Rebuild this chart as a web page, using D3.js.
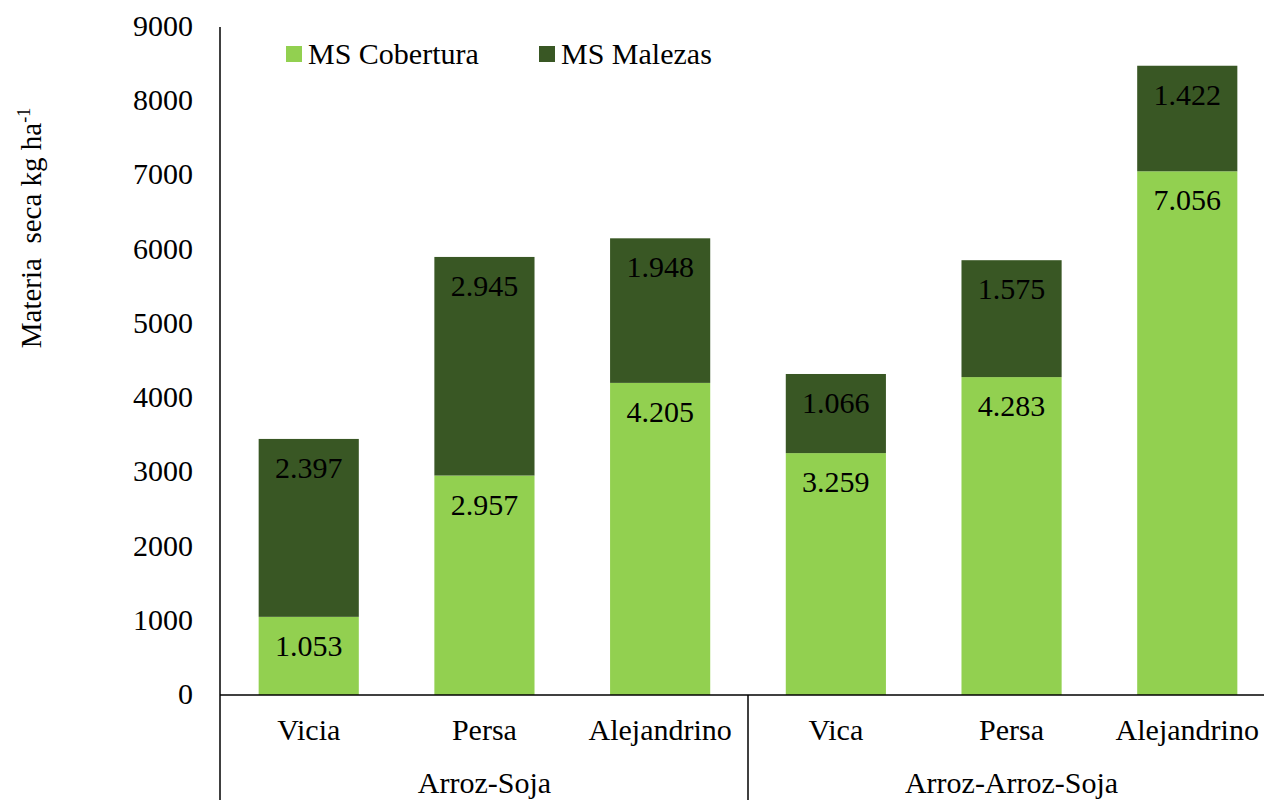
<!DOCTYPE html>
<html>
<head>
<meta charset="utf-8">
<script src="https://cdn.jsdelivr.net/npm/d3@7"></script>
<style>
body { margin: 0; background: #fff; }
</style>
</head>
<body>
<svg id="chart" width="1264" height="800"></svg>
<script>
const categories = ["Vicia", "Persa", "Alejandrino", "Vica", "Persa", "Alejandrino"];
const groups = ["Arroz-Soja", "Arroz-Arroz-Soja"];
const cobertura = [1053, 2957, 4205, 3259, 4283, 7056];
const malezas = [2397, 2945, 1948, 1066, 1575, 1422];
const yTicks = [0, 1000, 2000, 3000, 4000, 5000, 6000, 7000, 8000, 9000];
const seriesNames = ["MS Cobertura", "MS Malezas"];
const colors = ["#92D050", "#395724"];

const svg = d3.select("#chart")
	.attr("font-family", "'Liberation Serif', 'Times New Roman', Times, serif");
const plotLeft = 220, plotTop = 27, plotBottom = 695, fs = 30;

const y = d3.scaleLinear().domain([0, 9000]).range([plotBottom, plotTop]);
const x = d3.scaleBand().domain(d3.range(categories.length)).range([plotLeft, plotLeft + 6 * 176]).paddingInner(0.43).paddingOuter(0.22);

let fmt = v => d3.format(",")(v).replace(",", ".");

// y axis labels
svg.append("g").selectAll("text").data(yTicks).enter().append("text")
	.attr("x", 193).attr("y", d => y(d) + 9)
	.attr("text-anchor", "end").attr("font-size", fs)
	.text(d => d);

// stacked bars
let rows = categories.map((c, i) => ({i: i, cob: cobertura[i], mal: malezas[i]}));
let stack = d3.stack().keys(["cob", "mal"])(rows);

stack.forEach((s, k) => {
	let g = svg.append("g");
	g.selectAll("rect").data(s).enter().append("rect")
		.attr("x", d => x(d.data.i))
		.attr("width", x.bandwidth())
		.attr("y", d => y(d[1]))
		.attr("height", d => y(d[0]) - y(d[1]))
		.attr("fill", colors[k]);
	g.selectAll("text").data(s).enter().append("text")
		.attr("x", d => x(d.data.i) + x.bandwidth() / 2)
		.attr("y", d => y(d[1]) + 39)
		.attr("text-anchor", "middle").attr("font-size", fs)
		.text(d => fmt(d[1] - d[0]));
});

// axes lines
svg.append("line").attr("x1", plotLeft).attr("x2", plotLeft).attr("y1", plotTop).attr("y2", 800)
	.attr("stroke", "#000").attr("stroke-width", 1.5);
svg.append("line").attr("x1", plotLeft).attr("x2", 1264).attr("y1", plotBottom).attr("y2", plotBottom)
	.attr("stroke", "#000").attr("stroke-width", 1.5);
let sepX = (x(2) + x.bandwidth() + x(3)) / 2;
svg.append("line").attr("x1", sepX).attr("x2", sepX).attr("y1", plotBottom).attr("y2", 800)
	.attr("stroke", "#000").attr("stroke-width", 1.5);

// category labels
svg.append("g").selectAll("text").data(categories).enter().append("text")
	.attr("x", (d, i) => x(i) + x.bandwidth() / 2)
	.attr("y", 740)
	.attr("text-anchor", "middle").attr("font-size", fs)
	.text(d => d);

// group labels
svg.append("g").selectAll("text").data(groups).enter().append("text")
	.attr("x", (d, i) => (x(i * 3) + x(i * 3 + 2) + x.bandwidth()) / 2)
	.attr("y", 793)
	.attr("text-anchor", "middle").attr("font-size", fs)
	.text(d => d);

// y title
let yt = svg.append("text")
	.attr("transform", "translate(41,228) rotate(-90)")
	.attr("text-anchor", "middle").attr("font-size", 29)
	.style("white-space", "pre");
yt.append("tspan").text("Materia  seca kg ha");
yt.append("tspan").attr("dy", -11).attr("font-size", 18).text("-1");

// legend
let legX = [286, 539];
seriesNames.forEach((n, k) => {
	svg.append("rect").attr("x", legX[k]).attr("y", 46).attr("width", 16).attr("height", 16).attr("fill", colors[k]);
	svg.append("text").attr("x", legX[k] + 22).attr("y", 64).attr("font-size", fs).text(n);
});
</script>
</body>
</html>
